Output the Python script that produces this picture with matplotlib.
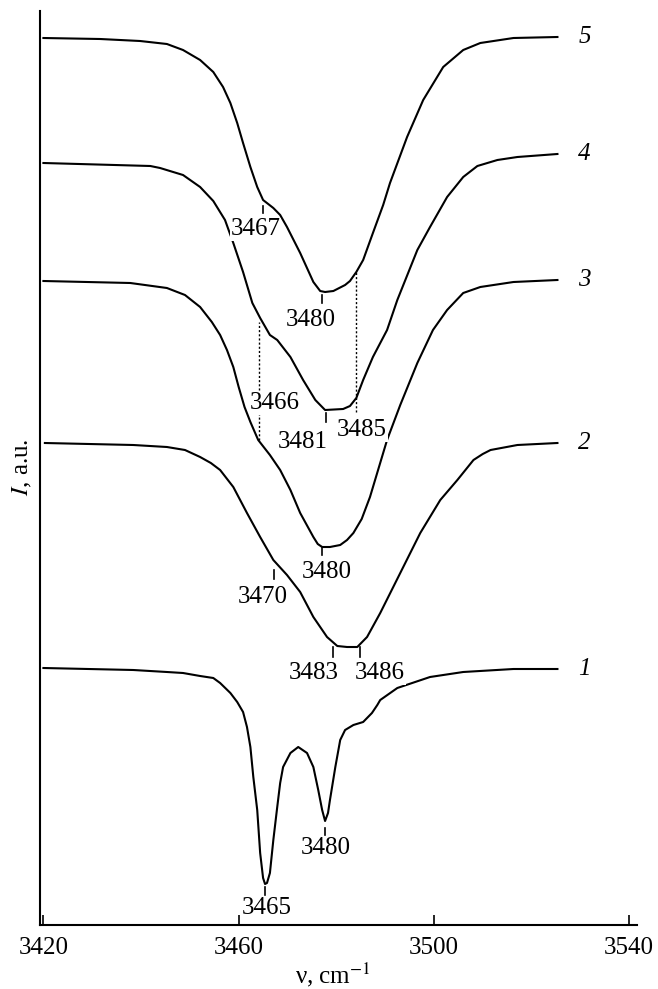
import matplotlib
matplotlib.use("Agg")
import matplotlib.pyplot as plt

plt.rcParams["font.family"] = ["Liberation Serif", "DejaVu Serif"]
plt.rcParams["mathtext.fontset"] = "stix"

# IR spectra, wavenumber (cm^-1) and intensity (a.u., traces offset)
nu_5 = [3420, 3431.6, 3439.8, 3445.3, 3448.6, 3452.1, 3454.8, 3456.8, 3458.3, 3459.7,
        3460.9, 3462.4, 3463.8, 3465.0, 3467.1, 3468.5, 3469.9, 3472.6, 3475.3, 3476.7,
        3477.7, 3479.4, 3481.8, 3482.8, 3484.1, 3485.5, 3487.5, 3489.6, 3491.0, 3494.5,
        3497.8, 3501.9, 3506.0, 3509.5, 3516.3, 3525.3]
int_5 = [88.7, 88.6, 88.4, 88.1, 87.5, 86.5, 85.3, 83.8, 82.2, 80.2,
         78.2, 75.8, 73.8, 72.5, 71.7, 71.0, 69.8, 67.2, 64.3, 63.4,
         63.3, 63.4, 64.0, 64.4, 65.3, 66.5, 69.2, 72.0, 74.2, 78.8,
         82.5, 85.8, 87.5, 88.2, 88.7, 88.8]

nu_4 = [3420, 3441.9, 3443.9, 3448.6, 3452.1, 3454.8, 3457.2, 3458.9, 3460.9, 3462.8,
        3464.4, 3466.4, 3467.9, 3470.6, 3473.2, 3475.7, 3477.7, 3481.4, 3482.8, 3484.1,
        3485.5, 3487.5, 3490.4, 3492.5, 3496.6, 3499.2, 3502.7, 3506.0, 3508.9, 3513.0,
        3517.1, 3525.3]
int_4 = [76.2, 75.9, 75.7, 75.0, 73.8, 72.4, 70.5, 68.2, 65.3, 62.2,
         60.7, 59.0, 58.5, 56.8, 54.5, 52.5, 51.5, 51.6, 51.9, 52.7,
         54.5, 56.8, 59.5, 62.5, 67.5, 69.8, 72.8, 74.8, 75.9, 76.5,
         76.8, 77.1]

nu_3 = [3420, 3437.8, 3445.3, 3449.0, 3452.1, 3454.5, 3456.2, 3457.6, 3458.9, 3460.0,
        3461.2, 3462.4, 3464.0, 3466.4, 3468.5, 3470.6, 3472.6, 3475.3, 3476.2, 3477.1,
        3478.7, 3480.8, 3482.2, 3483.5, 3485.2, 3486.9, 3490.4, 3493.1, 3496.6, 3499.8,
        3502.7, 3506.0, 3509.5, 3516.3, 3525.3]
int_3 = [64.4, 64.2, 63.7, 63.0, 61.8, 60.3, 59.0, 57.5, 55.8, 53.8,
         51.8, 50.3, 48.5, 47.0, 45.5, 43.5, 41.2, 38.8, 38.1, 37.8,
         37.8, 38.0, 38.5, 39.2, 40.6, 42.8, 48.5, 52.0, 56.2, 59.5,
         61.5, 63.2, 63.8, 64.3, 64.5]

nu_2 = [3420.3, 3438.4, 3445.3, 3449.0, 3452.1, 3454.3, 3456.2, 3458.9, 3461.7, 3464.4,
        3467.1, 3469.9, 3472.6, 3475.3, 3478.1, 3480.2, 3482.2, 3484.3, 3486.3, 3489.0,
        3493.1, 3497.2, 3501.3, 3504.8, 3508.1, 3510.0, 3511.6, 3517.1, 3525.3]
int_2 = [48.2, 48.0, 47.8, 47.5, 46.8, 46.2, 45.5, 43.8, 41.2, 38.8,
         36.5, 35.0, 33.3, 30.8, 28.8, 27.9, 27.8, 27.8, 28.8, 31.2,
         35.2, 39.2, 42.5, 44.5, 46.5, 47.1, 47.5, 48.0, 48.2]

nu_1 = [3420, 3438.4, 3445.3, 3448.6, 3452.1, 3454.8, 3456.2, 3458.3, 3459.7, 3460.9,
        3461.7, 3462.4, 3463.0, 3463.8, 3464.4, 3465.0, 3465.4, 3465.8, 3466.4, 3467.1,
        3467.9, 3468.5, 3469.1, 3470.6, 3472.2, 3474.0, 3475.3, 3476.3, 3477.1, 3477.7,
        3478.3, 3478.7, 3479.8, 3480.8, 3481.8, 3483.5, 3485.5, 3487.3, 3488.4, 3489.0,
        3492.5, 3499.2, 3506.0, 3516.3, 3525.3]
int_1 = [25.7, 25.5, 25.3, 25.2, 24.9, 24.7, 24.2, 23.2, 22.3, 21.3,
         19.8, 17.8, 14.8, 11.5, 7.2, 4.7, 4.1, 4.2, 5.2, 8.5,
         11.8, 14.2, 15.8, 17.2, 17.8, 17.2, 15.8, 13.5, 11.5, 10.4,
         11.2, 12.5, 15.8, 18.5, 19.5, 20.0, 20.3, 21.2, 22.0, 22.5,
         23.7, 24.8, 25.3, 25.6, 25.6]

spectra = [("1", nu_1, int_1), ("2", nu_2, int_2), ("3", nu_3, int_3),
           ("4", nu_4, int_4), ("5", nu_5, int_5)]

# band marks: label, tick x, tick top, tick bottom, text x, text y
band_labels = ["3467", "3480", "3481", "3485", "3466", "3480", "3470", "3483", "3486", "3465", "3480"]
tick_x = [3465.0, 3477.1, 3477.9, None, None, 3477.1, 3467.3, 3479.4, 3484.9, 3465.4, 3477.7]
tick_top = [71.9, 63.0, 51.2, None, None, 37.7, 35.5, 27.8, 27.8, 3.8, 9.7]
tick_bot = [71.2, 62.2, 50.3, None, None, 37.0, 34.6, 26.8, 26.8, 3.0, 9.0]
text_x = [3463.4, 3474.8, 3473.2, 3485.3, 3467.3, 3478.1, 3465.0, 3475.3, 3489.0, 3465.8, 3477.9]
text_y = [69.6, 60.5, 48.3, 49.5, 52.2, 35.3, 32.8, 25.2, 25.2, 1.7, 7.7]

# dotted guides between traces: x, lower end, upper end
guide_x = [3484.1, 3464.2]
guide_lo = [51.3, 48.5]
guide_hi = [65.3, 60.3]

fig = plt.figure(figsize=(6.58, 9.89), dpi=100)
ax = fig.add_axes([40 / 658, 64 / 989, 597 / 658, 914 / 989])

for name, nu, inten in spectra:
    ax.plot(nu, inten, color="black", lw=1.5, solid_joinstyle="round", zorder=2)
    ax.text(3529.6, inten[-1], name, style="italic", fontsize=18,
            ha="left", va="center")

for x, lo, hi in zip(guide_x, guide_lo, guide_hi):
    ax.plot([x, x], [lo, hi], color="black", lw=1.0, ls=(0, (1.5, 1.5)), zorder=1)

for lab, tx, t0, t1, lx, ly in zip(band_labels, tick_x, tick_top, tick_bot, text_x, text_y):
    if tx is not None:
        ax.plot([tx, tx], [t1, t0], color="black", lw=1.2, zorder=3)
    ax.text(lx, ly, lab, fontsize=18, ha="center", va="center", zorder=4,
            bbox=dict(fc="white", ec="none", pad=0.3))

ax.set_xlim(3419.3, 3541.6)
ax.set_ylim(0, 91.4)
ax.set_xticks([3420, 3460, 3500, 3540])
ax.set_yticks([])
ax.tick_params(axis="x", direction="in", length=7, width=1.2, pad=9, labelsize=18)
ax.spines["top"].set_visible(False)
ax.spines["right"].set_visible(False)
ax.spines["left"].set_linewidth(1.5)
ax.spines["bottom"].set_linewidth(1.5)

fig.text(333 / 658, 1 - 975 / 989, "ν, cm$^{-1}$", fontsize=18, ha="center", va="center")
fig.text(22 / 658, 1 - 467 / 989, "$I$, a.u.", fontsize=18, ha="center", va="center",
         rotation=90)

fig.savefig("out.png", dpi=100)
